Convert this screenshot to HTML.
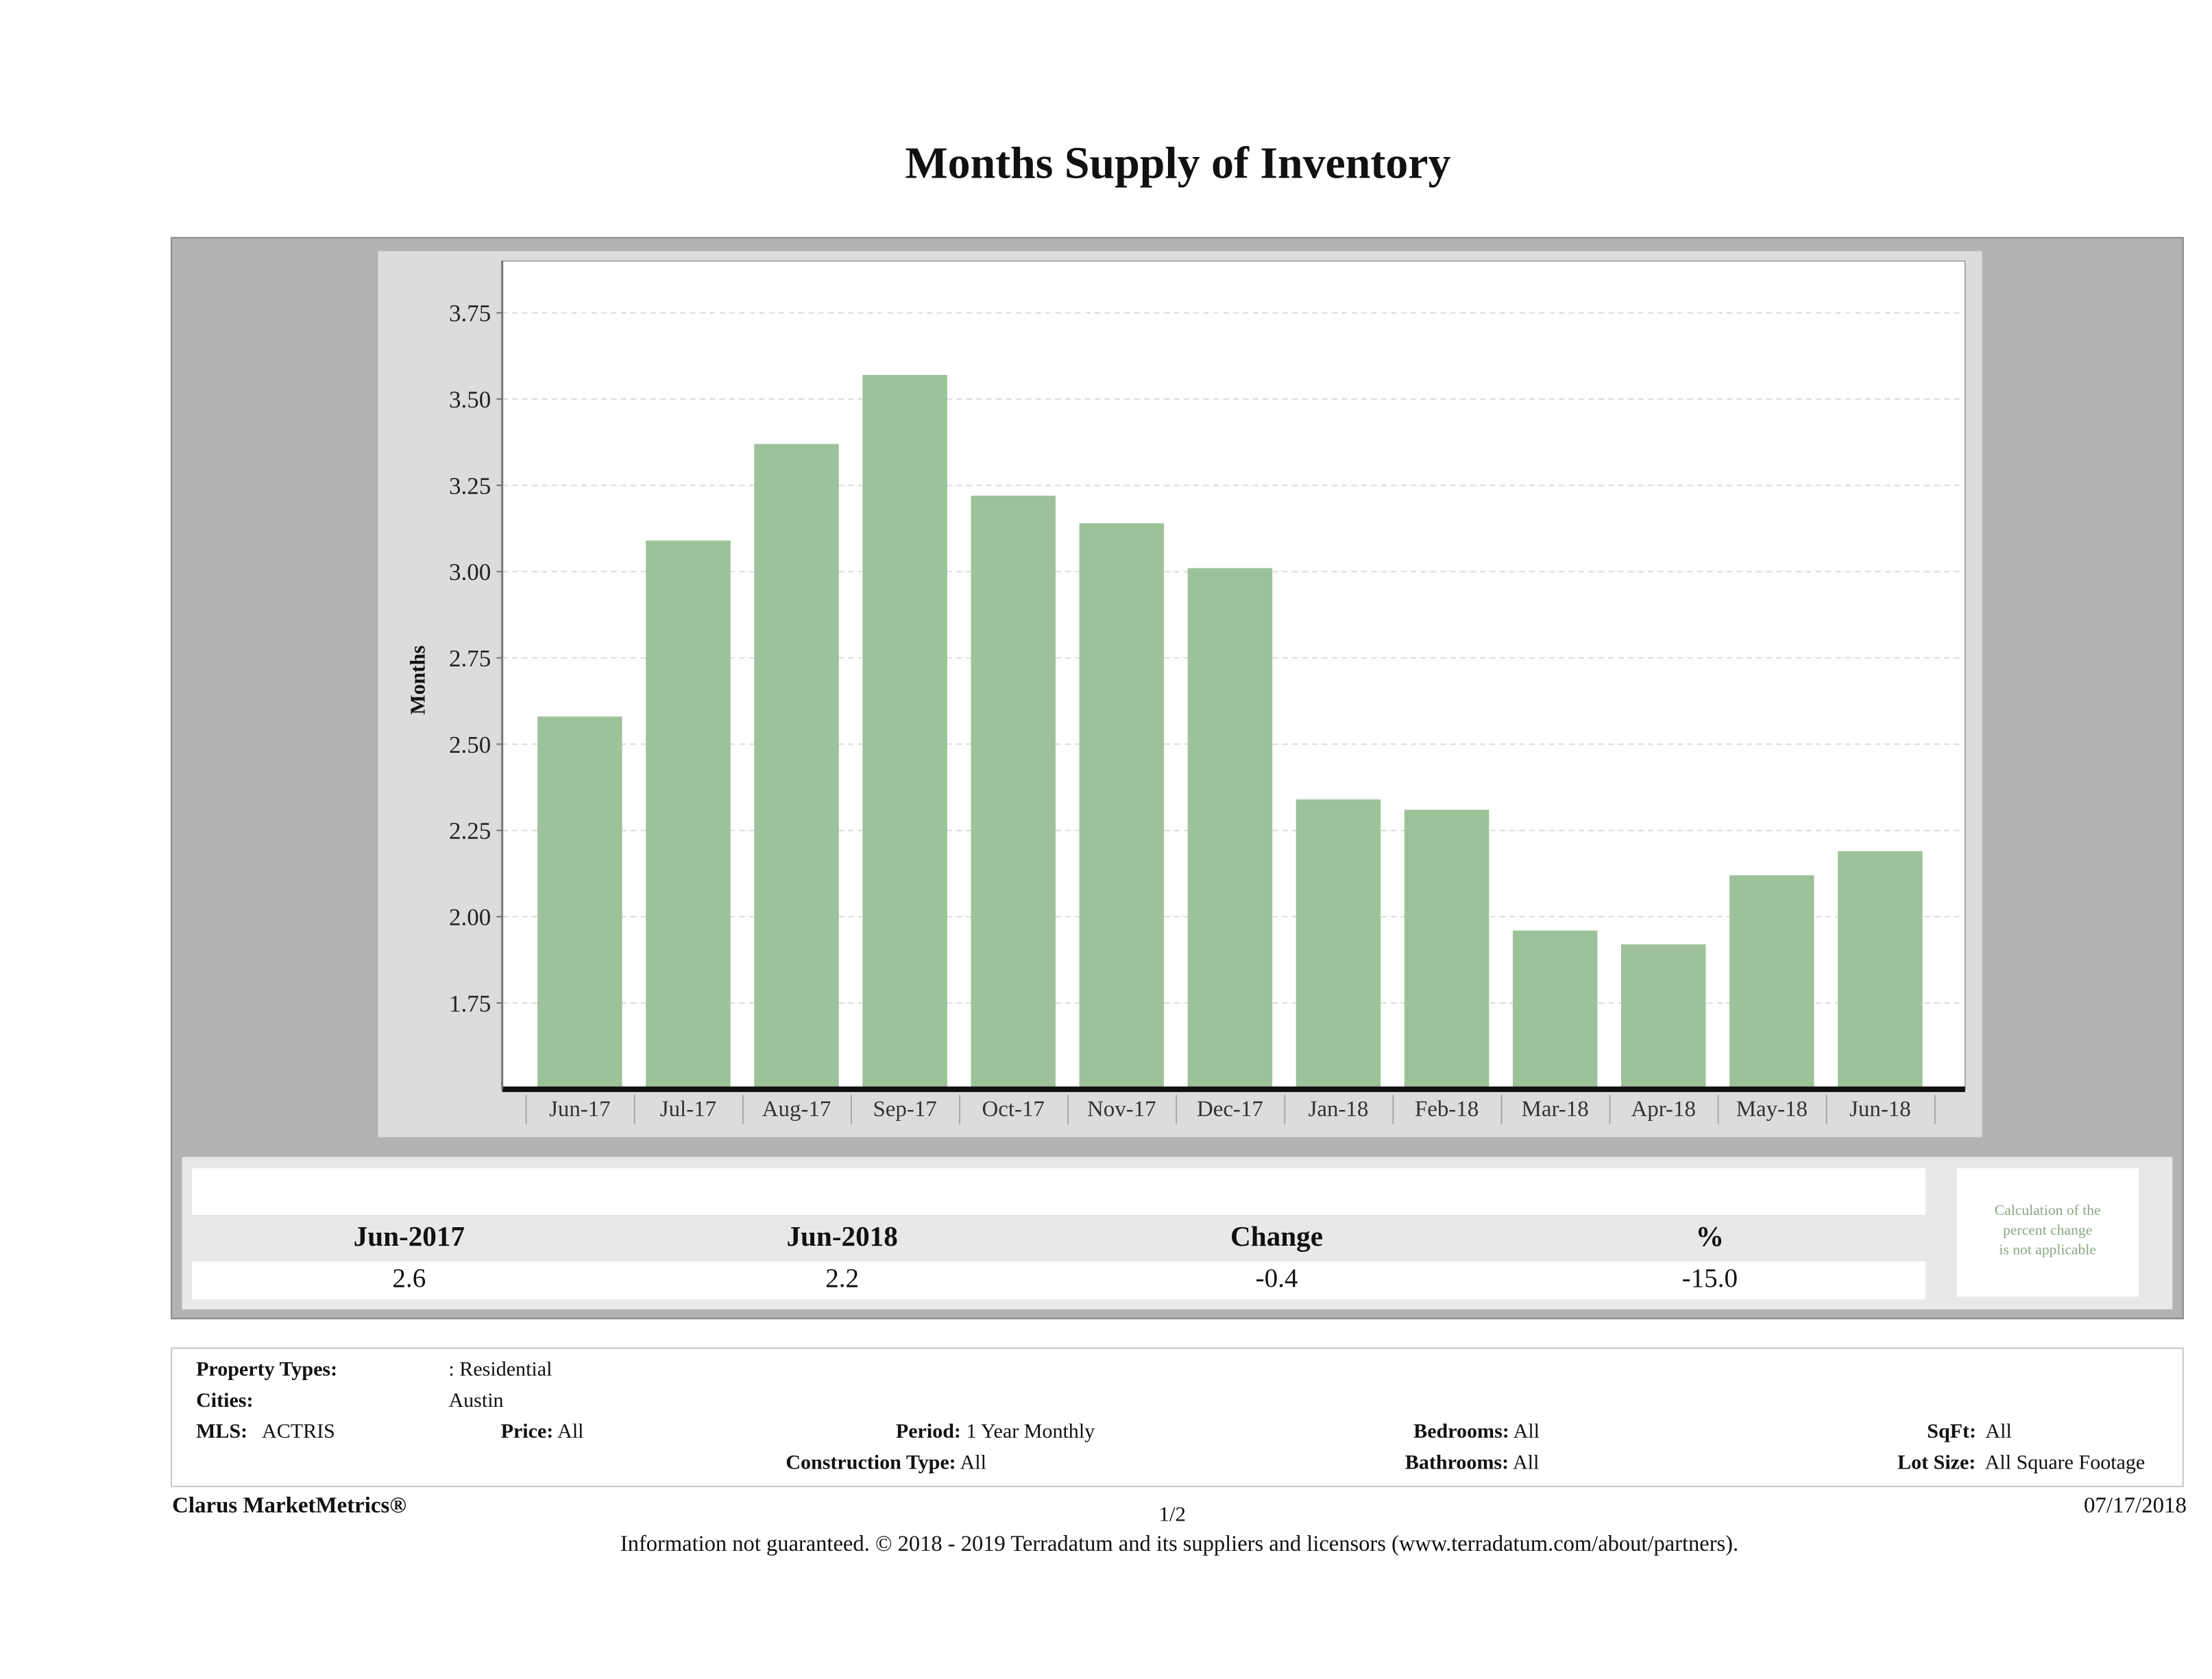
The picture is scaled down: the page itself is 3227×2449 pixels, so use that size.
<!DOCTYPE html>
<html><head><meta charset="utf-8"><style>
html,body{margin:0;padding:0;background:#fff;}
body{width:3227px;height:2448px;overflow:hidden;position:relative;font-family:"Liberation Serif",serif;}
#s{position:absolute;left:0;top:0;width:1568px;height:1190px;transform:scale(2.05804);transform-origin:0 0;}
.a{position:absolute;}
.t{position:absolute;white-space:nowrap;color:#111;}
.b{font-weight:bold;}
.c{font-size:14.6px;}
</style></head><body><div id="s">
<div class="t b" style="left:0;width:1670px;text-align:center;top:97px;font-size:32px;">Months Supply of Inventory</div>
<div class="a" style="left:121px;top:168px;width:1425px;height:765px;background:#b3b3b3;border:1px solid #8a8a8a;"></div>
<div class="a" style="left:268px;top:178px;width:1137px;height:628px;background:#dcdcdc;"></div>
<svg class="a" style="left:0;top:0" width="1568" height="1190" id="chart"></svg>
<div class="a" style="left:129px;top:820px;width:1411px;height:108px;background:#e8e8e8;"></div>
<div class="a" style="left:136px;top:828px;width:1229px;height:33px;background:#fff;"></div>
<div class="a" style="left:136px;top:894px;width:1229px;height:27px;background:#fff;"></div>
<div class="a" style="left:1387px;top:828px;width:129px;height:91px;background:#fff;"></div>
<div class="t" style="left:1387px;width:129px;top:852px;text-align:center;font-size:10.5px;line-height:14px;color:#8aa882;white-space:normal;">Calculation of the<br>percent change<br>is not applicable</div>
<div class="t b" style="left:190px;width:200px;text-align:center;top:866px;font-size:20px;">Jun-2017</div>
<div class="t b" style="left:497px;width:200px;text-align:center;top:866px;font-size:20px;">Jun-2018</div>
<div class="t b" style="left:805px;width:200px;text-align:center;top:866px;font-size:20px;">Change</div>
<div class="t b" style="left:1112px;width:200px;text-align:center;top:866px;font-size:20px;">%</div>
<div class="t" style="left:190px;width:200px;text-align:center;top:896px;font-size:19px;">2.6</div>
<div class="t" style="left:497px;width:200px;text-align:center;top:896px;font-size:19px;">2.2</div>
<div class="t" style="left:805px;width:200px;text-align:center;top:896px;font-size:19px;">-0.4</div>
<div class="t" style="left:1112px;width:200px;text-align:center;top:896px;font-size:19px;">-15.0</div>
<div class="a" style="left:121px;top:955px;width:1425px;height:97px;background:#fff;border:1px solid #c8c8c8;"></div>
<div class="t b c" style="left:139px;top:963px;">Property Types:</div>
<div class="t c" style="left:318px;top:963px;">: Residential</div>
<div class="t b c" style="left:139px;top:985px;">Cities:</div>
<div class="t c" style="left:318px;top:985px;">Austin</div>
<div class="t c" style="left:139px;top:1007px;"><b>MLS:</b>&nbsp;&nbsp; ACTRIS</div>
<div class="t c" style="left:355px;top:1007px;"><b>Price:</b> All</div>
<div class="t c" style="left:635px;top:1007px;"><b>Period:</b> 1 Year Monthly</div>
<div class="t c" style="left:1002px;top:1007px;"><b>Bedrooms:</b> All</div>
<div class="t c" style="left:1366px;top:1007px;"><b>SqFt:</b>&nbsp; All</div>
<div class="t c" style="left:557px;top:1029px;"><b>Construction Type:</b> All</div>
<div class="t c" style="left:996px;top:1029px;"><b>Bathrooms:</b> All</div>
<div class="t c" style="left:1345px;top:1029px;"><b>Lot Size:</b>&nbsp; All Square Footage</div>
<div class="t b" style="left:122px;top:1059px;font-size:16px;">Clarus MarketMetrics®</div>
<div class="t" style="left:800px;width:62px;text-align:center;top:1066px;font-size:15px;">1/2</div>
<div class="t" style="left:1450px;width:100px;text-align:right;top:1059px;font-size:16px;">07/17/2018</div>
<div class="t" style="left:0;width:1672px;text-align:center;top:1086px;font-size:15.8px;">Information not guaranteed. © 2018 - 2019 Terradatum and its suppliers and licensors (www.terradatum.com/about/partners).</div>
</div>
<script>
const categories=["Jun-17","Jul-17","Aug-17","Sep-17","Oct-17","Nov-17","Dec-17","Jan-18","Feb-18","Mar-18","Apr-18","May-18","Jun-18"];
const values=[2.58,3.09,3.37,3.57,3.22,3.14,3.01,2.34,2.31,1.96,1.92,2.12,2.19];
const tickValues=[1.75,2.00,2.25,2.50,2.75,3.00,3.25,3.50,3.75];
const tickLabels=["1.75","2.00","2.25","2.50","2.75","3.00","3.25","3.50","3.75"];
const NS="http://www.w3.org/2000/svg";
const svg=document.getElementById('chart');
const L=356,R=1393,T=185,B=772,vmin=1.5,vmax=3.9;
function y(v){return B-(v-vmin)/(vmax-vmin)*(B-T);}
const step=(R-L)/13.5;
function x(i){return L+17+i*step;}
function mk(tag,attrs){const e=document.createElementNS(NS,tag);for(const k in attrs)e.setAttribute(k,attrs[k]);svg.appendChild(e);return e;}
let e=mk('rect',{x:L,y:T,width:R-L,height:B-T,fill:'#fff',stroke:'#aaa'});


tickValues.forEach((v,i)=>{
 let g=mk('line',{x1:L,x2:R,y1:y(v),y2:y(v),stroke:'#ddd','stroke-dasharray':'4,3'});
 
 
 let tk=mk('line',{x1:L-4,x2:L,y1:y(v),y2:y(v),stroke:'#777'});
 
 
 let t=mk('text',{x:L-8,y:y(v)+6,'text-anchor':'end','font-size':'17','font-family':'Liberation Serif, serif',fill:'#222'});
 t.textContent=tickLabels[i];
 
 
});
values.forEach((v,i)=>{
 let r=mk('rect',{x:x(i)+8,y:y(v),width:60,height:B-y(v),fill:'#9dc29a'});
 
 
 let t=mk('text',{x:x(i)+38,y:791,'text-anchor':'middle','font-size':'16','font-family':'Liberation Serif, serif',fill:'#333'});
 t.textContent=categories[i];
 
 
 let s=mk('line',{x1:x(i),x2:x(i),y1:776,y2:797,stroke:'#aaa'});
 
 
});
let s2=mk('line',{x1:x(categories.length),x2:x(categories.length),y1:776,y2:797,stroke:'#aaa'});


let ax=mk('line',{x1:L,x2:R,y1:B,y2:B,stroke:'#111','stroke-width':'4'});


let yl=mk('line',{x1:L,x2:L,y1:T,y2:B,stroke:'#777','stroke-width':'1.5'});


let yt=mk('text',{x:0,y:0,transform:'translate(301,482) rotate(-90)','text-anchor':'middle','font-size':'15','font-weight':'bold','font-family':'Liberation Serif, serif',fill:'#111'});
yt.textContent='Months';


</script>
</body></html>
